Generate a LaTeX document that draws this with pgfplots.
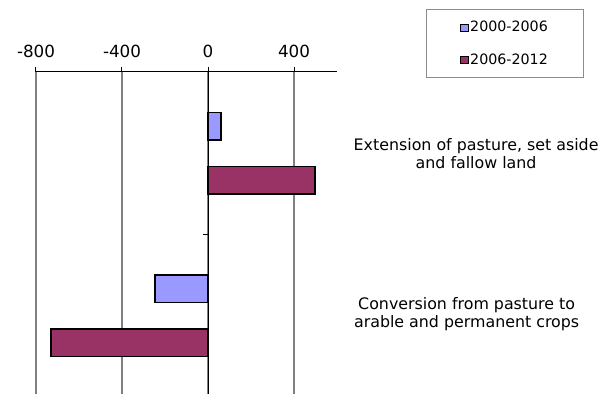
\documentclass[border=0pt]{standalone}
\usepackage{pgfplots}
\pgfplotsset{compat=1.18}
\usepackage{fontspec}
\setmainfont{DejaVu Sans}
\definecolor{serA}{HTML}{9999FF}
\definecolor{serB}{HTML}{993366}
\begin{document}
\begin{tikzpicture}
\useasboundingbox (-36bp,0) rectangle (575bp,394bp);
\begin{axis}[
  scale only axis, width=301bp, height=322bp,
  xmin=-800, xmax=600, ymin=-0.481, ymax=1.5,
  clip=false,
  axis x line*=top, axis y line*=middle,
  axis line style={-, line width=1bp, black},
  xtick={-800,-400,0,400}, xticklabels={-800,-400,0,400},
  xtick align=outside, major tick length=5bp,
  tick style={black, line width=1bp},
  ytick={0.5}, yticklabels={}, ytick align=center, ytick style={xshift=-2.5bp},
  xmajorgrids, grid style={black!50, line width=1.2bp},
  xticklabel style={font=\fontsize{16.8}{18}\selectfont, yshift=6bp},
  legend style={at={(1.2957,1.1957)}, anchor=north west, draw=black!45,
    line width=0.8bp, inner xsep=34bp, inner ysep=10.5bp,
    font=\fontsize{14.3}{16}\selectfont, row sep=17bp,
    nodes={inner sep=1.5bp}},
  legend cell align=left,
  legend image code/.code={\draw[#1, line width=0.8bp] (0bp,-3.5bp) rectangle (7.5bp,3.5bp);},
]
\addplot[xbar, fill=serA, draw=black, line width=1.5bp, bar width=27.5bp, bar shift=27bp]
  coordinates {(60,1) (-247,0)};
\addplot[xbar, fill=serB, draw=black, line width=1.5bp, bar width=27.5bp, bar shift=-27bp]
  coordinates {(497,1) (-731,0)};
\legend{2000-2006,2006-2012}
\node[align=center, font=\fontsize{15.9}{18}\selectfont] at (axis cs:1247,1)
  {Extension of pasture, set aside\\and fallow land};
\node[align=center, font=\fontsize{15.9}{18}\selectfont] at (axis cs:1203,0.01)
  {Conversion from pasture to\\arable and permanent crops};
\end{axis}
\end{tikzpicture}
\end{document}
